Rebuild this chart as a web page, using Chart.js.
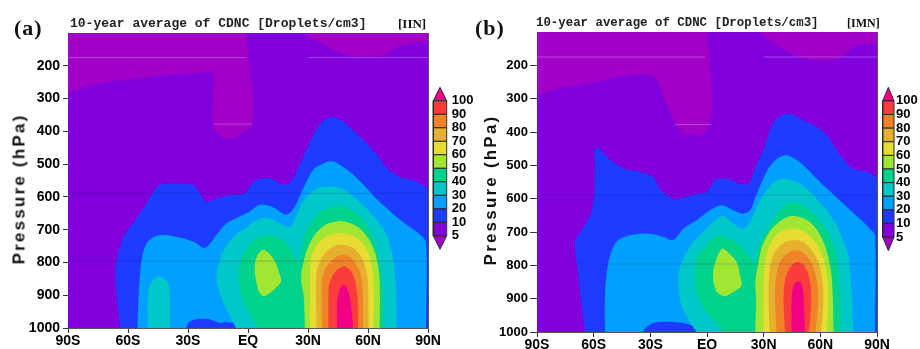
<!DOCTYPE html>
<html lang="en">
<head>
  <meta charset="UTF-8">
  <title>10-year average of CDNC</title>
  <script src="https://cdn.jsdelivr.net/npm/chart.js"></script>
  <style>
    body { margin: 0; background: #fff; }
    #wrap { position: relative; width: 920px; height: 349px; overflow: hidden; }
    #wrap canvas { position: absolute; }
    .txt { position: absolute; white-space: nowrap; color: #111; line-height: 1; }
    .tag { font-family: "Liberation Serif", serif; font-weight: bold; font-size: 22px; letter-spacing: 1px; }
    .ttl { font-family: "Liberation Mono", monospace; font-size: 13px; font-weight: bold; color: #222; }
    .run { font-family: "Liberation Serif", serif; font-weight: bold; font-size: 13px; }
    .ytl { font-family: "Liberation Sans", Arial, sans-serif; font-weight: bold; font-size: 17px;
           letter-spacing: 2.2px; transform: translate(-50%, -50%) rotate(-90deg); }
  </style>
</head>
<body>
<div id="wrap">
  <canvas id="panelA" width="460" height="349" style="left:0;top:0"></canvas>
  <canvas id="panelB" width="460" height="349" style="left:460px;top:0"></canvas>
  <canvas id="barA" width="50" height="200" style="left:430px;top:70px"></canvas>
  <canvas id="barB" width="42" height="200" style="left:878px;top:70px"></canvas>

  <div class="txt tag" style="left:14px;top:17px">(a)</div>
  <div class="txt ttl" style="left:70px;top:17px">10-year average of CDNC [Droplets/cm3]</div>
  <div class="txt run" style="left:398px;top:17px">[IIN]</div>
  <div class="txt ytl" style="left:19px;top:189px">Pressure (hPa)</div>

  <div class="txt tag" style="left:475px;top:17px">(b)</div>
  <div class="txt ttl" style="left:536px;top:17px;font-size:12.4px">10-year average of CDNC [Droplets/cm3]</div>
  <div class="txt run" style="left:847px;top:17px;font-size:12px">[IMN]</div>
  <div class="txt ytl" style="left:490px;top:190px">Pressure (hPa)</div>
</div>

<script>
  // axes
  const latTicks = [-90, -60, -30, 0, 30, 60, 90];
  const latLabels = ['90S', '60S', '30S', 'EQ', '30N', '60N', '90N'];
  const presTicks = [200, 300, 400, 500, 600, 700, 800, 900, 1000];
  const latRange = [-90, 90];
  const presRange = [100, 1000];

  // contour levels: <5, 5-10, 10-20, ... 90-100, >100
  const levelLabels = ['5', '10', '20', '30', '40', '50', '60', '70', '80', '90', '100'];
  const levelColors = ['#a000c8', '#8200dc', '#1e3cff', '#00a0ff', '#00c8c8', '#00d28c',
                       '#a0e632', '#e6dc32', '#e6af2d', '#f08228', '#fa3c3c', '#f00082'];

  // panel (a) IIN : contour outlines as [lat, hPa]
  const aBelow5Left = [[-90,100],[-90,278],[-80,262],[-69,248],[-55,238],[-40,228],[-25,222],[-17.5,222],
    [-17.5,300],[-17.5,385],[-13,418],[-8,422],[-3,405],[1,388],[2.5,360],[2.5,300],[1.5,230],[0,160],[-1,100]];
  const aBelow5Right = [[27.5,100],[32,116],[38,135],[45,158],[51,170],[60,173],[67,170],[71,158],[75,142],
    [82,133],[90,122],[90,100]];
  const aL10 = [[-64,1000],[-66,880],[-66,800],[-62,718],[-56,668],[-50,612],[-46,572],[-43,561],[-35,560],
    [-27,565],[-24,590],[-21,615],[-16,605],[-9,595],[-2,590],[3,553],[8,542],[13,548],[17,563],[21,556],
    [26,500],[30,445],[34,395],[38,365],[42,357],[47,368],[53,400],[59,435],[65,475],[70,515],[76,540],
    [82,548],[86,560],[90,578],[90,1000]];
  const aL20 = [[-55.3,1000],[-54.5,880],[-53,786],[-50.5,740],[-45,718],[-37,720],[-27,737],[-21.5,756],
    [-16,718],[-11,682],[-5,662],[0,648],[6,624],[12.7,632],[19,654],[23,634],[26,595],[29.3,553],[33,515],
    [38,497],[42.7,492],[49,515],[54,540],[59.3,573],[64,605],[69.3,634],[74,660],[79.3,685],[86,715],
    [89,740],[89,1000]];
  const aL10Dip = [[-31,1000],[-29.5,982],[-26,973],[-21,972],[-17,978],[-14,985],[-11,982],[-7,986],
    [-3,994],[-2,1000]];
  const aL30Strip = [[-50,1000],[-50,900],[-48.5,862],[-45,843],[-42,848],[-39.5,870],[-39,920],[-39,1000]];
  const aL30 = [[-6,1000],[-8,975],[-11,940],[-14,895],[-15.7,850],[-14.5,800],[-11,750],[-6,715],[-1,695],
    [4,672],[9,664],[13,672],[17,685],[21,692],[24,660],[27,620],[30,595],[35,574],[41,568],[47,576],
    [53,600],[59,634],[65,675],[69.5,718],[72.7,797],[74,898],[74.3,1000]];
  const aL40 = [[5,1000],[2,970],[-1.5,930],[-4,880],[-5,822],[-3,782],[0,752],[4,728],[9,718],
    [14,722],[18.5,738],[22,765],[24.5,795],[26.5,765],[28,722],[31,683],[36,648],[42,630],[47,628],
    [52,642],[57,665],[61,700],[64.3,756],[66.5,830],[67.5,900],[67.7,1000]];
  const aL50Blob = [[3.5,840],[3.5,800],[5,775],[7.5,761],[10.5,772],[13.5,797],[15.5,830],[16.5,858],
    [13.5,880],[10,897],[7.5,903],[5,885]];
  const aL50 = [[28.5,1000],[27.8,900],[26.5,845],[28.5,780],[31,740],[34,710],[39,684],[45,674],[50,678],
    [55,692],[60,725],[63.5,770],[65.5,830],[66,900],[65.8,1000]];
  const aL60 = [[31,1000],[31,850],[31.5,790],[34,750],[38,725],[43,712],[48,711],[53,720],[57.5,742],
    [60.5,775],[62.5,830],[63,900],[62.7,1000]];
  const aL70 = [[34.3,1000],[34,900],[34.3,830],[36.5,790],[40,762],[44,748],[48,746],[52.5,755],[56,778],
    [58.5,810],[60,860],[60.3,1000]];
  const aL80 = [[37,1000],[36.8,900],[37,855],[38.8,818],[42.5,790],[46.5,777],[50.5,782],[53.5,800],
    [56,830],[57.3,880],[57.7,1000]];
  const aL90 = [[40.2,1000],[40.2,900],[40.5,870],[42.5,838],[45.5,818],[48.5,812],[51.5,826],[53.5,855],
    [54.8,915],[55,1000]];
  const aL100 = [[44.5,1000],[44.5,930],[45.5,890],[47.5,868],[49.5,878],[51.2,915],[52,960],[52.5,1000]];

  // panel (b) IMN
  const bBelow5Left = [[-90,100],[-90,280],[-76,265],[-58,250],[-48,236],[-41,230],[-29,230],[-26,250],
    [-22.5,300],[-19,350],[-16,380],[-12.5,410],[-7,405],[-3,412],[1.5,370],[2.5,290],[1.6,190],[0,100]];
  const bBelow5Right = [[28,100],[33,128],[40,150],[46,168],[56,183],[66,184],[72,170],[77,147],[82,137],
    [90,133],[90,100]];
  const bL10 = [[-64.5,1000],[-67,890],[-69,790],[-70,730],[-67,700],[-62,650],[-60,600],[-59.3,520],
    [-59.5,455],[-58,448],[-55,462],[-51,485],[-44,510],[-35.5,520],[-28.5,535],[-25,570],[-18,600],
    [-11,595],[-5.5,585],[-0.2,580],[4.2,545],[10.4,540],[17.5,555],[22,555],[26,500],[30,450],[34,385],
    [37,360],[42,345],[46,350],[49,360],[55,375],[61.6,400],[66,430],[70.4,470],[77.5,510],[84.5,520],
    [90,540],[90,1000]];
  const bL20 = [[-54,1000],[-54,890],[-52.2,790],[-48,730],[-41,710],[-30,705],[-23,715],[-18,725],
    [-12.5,690],[-5.5,665],[1.6,635],[7.8,620],[14,635],[19.2,645],[22.8,635],[26,590],[29.8,540],
    [33,505],[37,480],[42,470],[47,482],[51,500],[56,528],[61.6,560],[67,588],[72.2,615],[78,645],
    [82.8,670],[87,695],[89,710],[89,1000]];
  const bL10Dip = [[-34,1000],[-32,985],[-28,972],[-20,969],[-12,974],[-5,986],[-1,1000]];
  const bL30 = [[-5.5,1000],[-9,970],[-12,940],[-14,910],[-15.2,830],[-11.7,770],[-7.2,730],[-2,700],
    [4.2,665],[8.6,652],[14,675],[19.2,690],[22.8,670],[26,630],[29.8,590],[35,552],[40.4,540],[47.5,550],
    [53,572],[58,600],[64,640],[68.6,680],[72,725],[74.8,770],[76.6,890],[77.5,1000]];
  const bL40 = [[9,1000],[5,975],[0.5,945],[-3.5,910],[-6,870],[-6.5,810],[-5,770],[-0.2,740],[5,712],
    [12,720],[17.5,740],[21,762],[24.5,790],[26.5,760],[28,730],[33.3,680],[37,645],[40.4,622],
    [45.7,610],[52.8,628],[57,650],[61.6,680],[66,725],[68.6,770],[70.4,870],[71,1000]];
  const bL50Blob = [[3.3,850],[3.3,815],[5,780],[7.8,750],[11,760],[15.7,790],[17.5,830],[18.3,860],
    [14,880],[9,893],[5,880]];
  const bL50 = [[25.5,1000],[26,900],[25.5,850],[27,800],[29,745],[33,700],[38,670],[44,652],[49,655],
    [54,668],[59,700],[63,750],[65.5,810],[66.5,880],[67,1000]];
  const bL60 = [[29.8,1000],[29.8,890],[30.5,800],[33,740],[37,708],[42,692],[47,690],[52,700],[57,728],
    [61,770],[63.5,830],[64.2,890],[63.5,1000]];
  const bL70 = [[33.3,1000],[32.5,890],[33.5,800],[36,760],[40,735],[45.7,725],[51,730],[55.5,755],
    [59,790],[61,840],[61.6,900],[60.5,1000]];
  const bL80 = [[36.9,1000],[36,890],[37,820],[39.5,780],[43,762],[46.5,755],[50.5,760],[54,782],
    [57,815],[58.5,860],[59,900],[57.5,1000]];
  const bL90 = [[41.3,1000],[40.5,890],[41.5,840],[44,806],[47.5,790],[51,798],[53.5,825],[55,870],
    [55,930],[54,1000]];
  const bL100 = [[44.8,1000],[44.8,900],[45.8,862],[48,848],[50,855],[51,885],[51.5,940],[51.8,1000]];

  // faint horizontal seams visible in the scanned figure: [hPa, lat from, lat to]
  const seamLight = [[175, -90, -1], [175, 30, 90], [378, -17, 2]];
  const seamDark = [[589, -90, 90], [796, -90, 90]];

  const fullDomain = [[latRange[0], presRange[0]], [latRange[1], presRange[0]],
                      [latRange[1], presRange[1]], [latRange[0], presRange[1]]];

  const layersA = [[fullDomain, 1], [aBelow5Left, 0], [aBelow5Right, 0], [aL10, 2], [aL20, 3], [aL10Dip, 2],
    [aL30Strip, 4], [aL30, 4], [aL40, 5], [aL50Blob, 6], [aL50, 6], [aL60, 7], [aL70, 8], [aL80, 9],
    [aL90, 10], [aL100, 11]];
  const layersB = [[fullDomain, 1], [bBelow5Left, 0], [bBelow5Right, 0], [bL10, 2], [bL20, 3], [bL10Dip, 2],
    [bL30, 4], [bL40, 5], [bL50Blob, 6], [bL50, 6], [bL60, 7], [bL70, 8], [bL80, 9], [bL90, 10], [bL100, 11]];

  Chart.defaults.color = '#000';
  Chart.defaults.font.family = '"Liberation Sans", Arial, sans-serif';

  function toXY(pts) {
    return pts.map(p => ({x: p[0], y: p[1]}));
  }

  function buildDatasets(layers) {
    const sets = layers.map(([pts, level], i) => ({
      data: toXY(pts),
      showLine: true,
      fill: 'shape',
      backgroundColor: levelColors[level],
      borderWidth: 0,
      pointRadius: 0,
      tension: i === 0 ? 0 : 0.3,
      order: -i
    }));
    const seam = ([p, from, to], color) => ({
      data: toXY([[from, p], [to, p]]),
      showLine: true, fill: false, borderColor: color, borderWidth: 1,
      pointRadius: 0, order: -200
    });
    seamLight.forEach(s => sets.push(seam(s, 'rgba(255,225,255,0.3)')));
    seamDark.forEach(s => sets.push(seam(s, 'rgba(0,20,90,0.2)')));
    return sets;
  }

  function frameAxis(position, size) {
    return {
      type: 'linear', position: position,
      min: position === 'top' ? latRange[0] : presRange[0],
      max: position === 'top' ? latRange[1] : presRange[1],
      ticks: { display: false },
      grid: { drawOnChartArea: false, drawTicks: false },
      border: { color: '#555' },
      afterFit: s => { if (position === 'top') s.height = size; else s.width = size; },
      z: 1
    };
  }

  function renderPanel(id, layers, box) {
    new Chart(document.getElementById(id), {
      type: 'scatter',
      data: { datasets: buildDatasets(layers) },
      options: {
        responsive: false,
        animation: false,
        events: [],
        layout: { padding: { left: 0, right: box.right, top: box.top, bottom: 0 } },
        plugins: { legend: { display: false }, tooltip: { enabled: false } },
        scales: {
          x: {
            type: 'linear', min: latRange[0], max: latRange[1],
            afterBuildTicks: s => { s.ticks = latTicks.map(v => ({value: v})); },
            afterFit: s => { s.height = box.xh; },
            ticks: { callback: (v, i) => latLabels[i], autoSkip: false, maxRotation: 0, padding: 0,
                     font: { size: box.xfont, weight: 'bold' } },
            grid: { drawOnChartArea: false, tickLength: 5, color: '#333' },
            border: { color: '#555' },
            z: 1
          },
          y: {
            type: 'linear', reverse: true, min: presRange[0], max: presRange[1],
            afterBuildTicks: s => { s.ticks = presTicks.map(v => ({value: v})); },
            afterFit: s => { s.width = box.yw; },
            ticks: { callback: (v, i) => String(presTicks[i]), autoSkip: false, padding: box.ypad,
                     font: { size: box.yfont, weight: 'bold' } },
            grid: { drawOnChartArea: false, tickLength: box.tick, color: '#333' },
            border: { color: '#555' },
            z: 1
          },
          x2: frameAxis('top', 0),
          y2: frameAxis('right', 0)
        }
      }
    });
  }

  function renderColorbar(id, box) {
    const n = levelLabels.length;
    const rect = k => [[0, k], [1, k], [1, k + 1], [0, k + 1], [0, k]];
    const sets = [];
    for (let k = 1; k < n; k++) {
      sets.push({ data: toXY(rect(k)), color: levelColors[k] });
    }
    sets.push({ data: toXY([[0, 1], [1, 1], [0.5, 0], [0, 1]]), color: levelColors[0] });
    sets.push({ data: toXY([[0, n], [1, n], [0.5, n + 1], [0, n]]), color: levelColors[n] });

    new Chart(document.getElementById(id), {
      type: 'scatter',
      data: {
        datasets: sets.map(s => ({
          data: s.data, showLine: true, fill: 'shape', backgroundColor: s.color,
          borderColor: '#2a2a2a', borderWidth: 1, pointRadius: 0, clip: 3
        }))
      },
      options: {
        responsive: false,
        animation: false,
        events: [],
        layout: { padding: { left: box.left, right: 0, top: box.top, bottom: box.bottom } },
        plugins: { legend: { display: false }, tooltip: { enabled: false } },
        scales: {
          x: { type: 'linear', min: 0, max: 1, display: false },
          y: {
            type: 'linear', position: 'right', min: 0, max: n + 1,
            afterBuildTicks: s => { s.ticks = levelLabels.map((_, i) => ({value: i + 1})); },
            afterFit: s => { s.width = box.axis; },
            ticks: { callback: (v, i) => levelLabels[i], padding: box.pad, autoSkip: false,
                     font: { size: 13, weight: 'bold' } },
            grid: { display: false, drawTicks: false },
            border: { display: false }
          }
        }
      }
    });
  }

  renderPanel('panelA', layersA, { right: 32, top: 33, xh: 21, yw: 68, tick: 5, ypad: 3, xfont: 14, yfont: 14 });
  renderPanel('panelB', layersB, { right: 43, top: 32, xh: 17, yw: 77, tick: 7, ypad: 2, xfont: 14, yfont: 13 });
  renderColorbar('barA', { left: 3.3, top: 17.3, bottom: 20.7, axis: 33.3, pad: 5 });
  renderColorbar('barB', { left: 4.7, top: 17.3, bottom: 19.3, axis: 26, pad: 2 });
</script>
</body>
</html>
